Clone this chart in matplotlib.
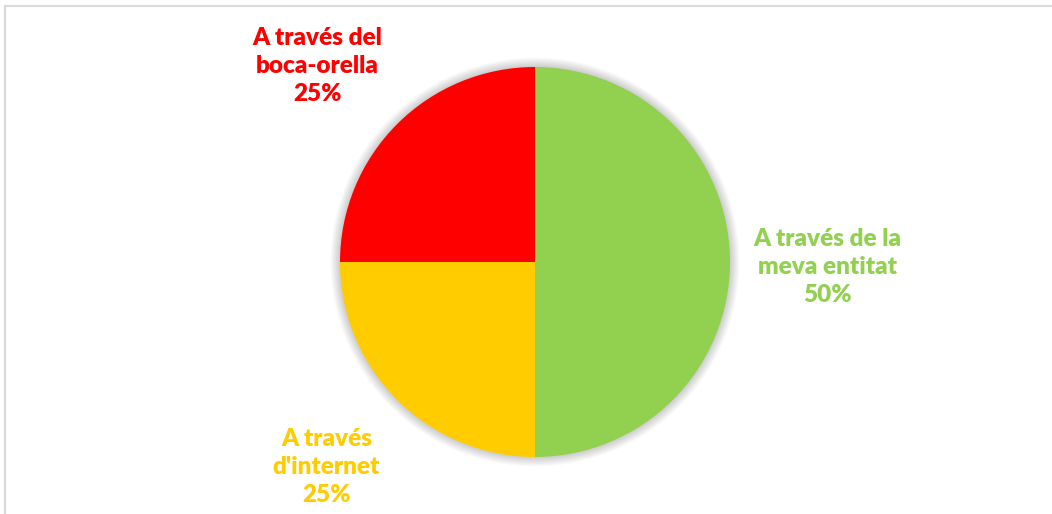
import numpy as np
import matplotlib.pyplot as plt
from matplotlib.patches import Rectangle, Circle

# ----------------------------
# Data
# ----------------------------
categories = ["A través de la\nmeva entitat", "A través\nd'internet", "A través del\nboca-orella"]
values = [50, 25, 25]
colors = ["#92D050", "#FFCC00", "#FF0000"]

W, H, DPI = 1052, 514, 100
CX, CY, R = 535, 262, 195   # pie centre / radius in pixels

fig = plt.figure(figsize=(W / DPI, H / DPI), dpi=DPI)
ax = fig.add_axes([0, 0, 1, 1])

total = float(sum(values))
labels = [f"{c}\n{v / total * 100:.0f}%" for c, v in zip(categories, values)]

# soft shadow round the pie
for k in range(8):
    ax.add_patch(Circle((0, 0), 1.0 + 0.006 * (k + 1), color="#000000",
                        alpha=0.025, lw=0, zorder=0))

wedges, texts = ax.pie(values, colors=colors, labels=labels, startangle=90,
                       counterclock=False, labeldistance=1.5,
                       wedgeprops=dict(linewidth=0, zorder=2))

# small angular nudges so labels sit where Excel put them
nudge = [-1.0, -0.5, 3.0]
for t, c, w, dn in zip(texts, colors, wedges, nudge):
    ang = np.deg2rad((w.theta1 + w.theta2) / 2 + dn)
    t.set_position((1.5 * np.cos(ang), 1.5 * np.sin(ang)))
    t.set_horizontalalignment("center")
    t.set_verticalalignment("center")
    t.set_color(c)
    t.set_fontfamily("Lato")
    t.set_fontweight("heavy")
    t.set_fontsize(17.5)
    t.set_linespacing(1.34)

ax.set_xlim(-CX / R, (W - CX) / R)
ax.set_ylim(-(H - CY) / R, CY / R)
ax.set_aspect("auto")
ax.axis("off")

# chart frame (light grey, cut off at right / bottom)
fig.patches.append(Rectangle((5 / W, -0.1), 1.2, (H - 6) / H + 0.1,
                             transform=fig.transFigure, fill=False,
                             edgecolor="#D9D9D9", linewidth=1.5))

fig.savefig("out.png", dpi=DPI, facecolor="white")
